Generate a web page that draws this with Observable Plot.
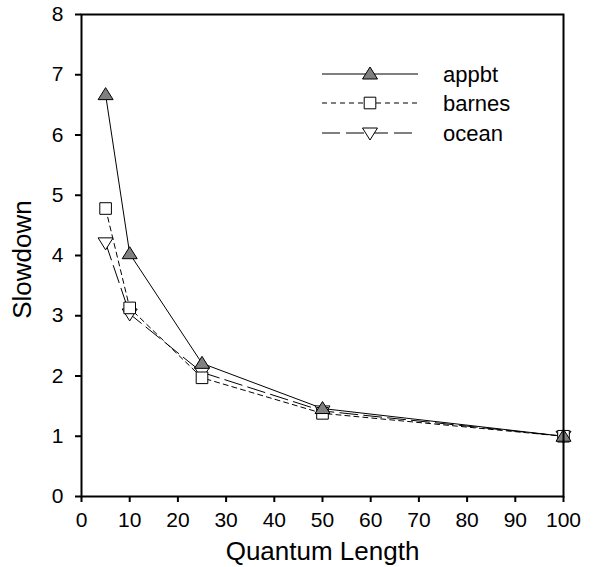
<!DOCTYPE html>
<html>
<head>
<meta charset="utf-8">
<script src="https://cdn.jsdelivr.net/npm/d3@7"></script>
<script src="https://cdn.jsdelivr.net/npm/@observablehq/plot@0.6"></script>
<style>
  html, body { margin: 0; padding: 0; background: white; }
</style>
</head>
<body>
<div id="chart"></div>
<script>
const quantum = [5, 10, 25, 50, 100];
const appbt = [6.67, 4.03, 2.21, 1.46, 1.0];
const barnes = [4.78, 3.13, 1.97, 1.38, 1.0];
const ocean = [4.21, 3.03, 2.06, 1.42, 1.0];
const seriesNames = ["appbt", "barnes", "ocean"];
const xTicks = [0, 10, 20, 30, 40, 50, 60, 70, 80, 90, 100];
const yTicks = [0, 1, 2, 3, 4, 5, 6, 7, 8];
const xLabel = "Quantum Length";
const yLabel = "Slowdown";

const triUp = {draw(c) { c.moveTo(0, -7); c.lineTo(7.5, 5); c.lineTo(-7.5, 5); c.closePath(); }};
const triDown = {draw(c) { c.moveTo(0, 7); c.lineTo(7.5, -5); c.lineTo(-7.5, -5); c.closePath(); }};
const square = {draw(c) { c.rect(-5.8, -5.8, 11.6, 11.6); }};

const styles = {
  appbt: {dash: null, symbol: triUp, fill: "#808080"},
  barnes: {dash: "5,4", symbol: square, fill: "white"},
  ocean: {dash: "18,6", symbol: triDown, fill: "white"}
};
const seriesVals = {appbt, barnes, ocean};
const rows = name => quantum.map((q, i) => ({q, v: seriesVals[name][i], s: name}));

const drawOrder = ["ocean", "barnes", "appbt"];
const marks = [];
for (const name of drawOrder) {
  marks.push(Plot.line(rows(name), {x: "q", y: "v", stroke: "black", strokeWidth: 1, strokeDasharray: styles[name].dash}));
}
for (const name of drawOrder) {
  marks.push(Plot.dot(rows(name), {x: "q", y: "v", symbol: styles[name].symbol, fill: styles[name].fill, stroke: "black", strokeWidth: 1, r: 5}));
}

const FONT = "'Liberation Sans', Arial, sans-serif";

const plot = Plot.plot({
  width: 593,
  height: 567,
  marginLeft: 81,
  marginRight: 30,
  marginTop: 14,
  marginBottom: 71,
  x: {domain: [0, 100]},
  y: {domain: [0, 8]},
  style: {fontFamily: FONT, fontSize: "21px", color: "black", background: "white"},
  marks: [
    Plot.axisX({ticks: xTicks, tickSize: 6, tickPadding: 10, strokeWidth: 2, label: null, fontSize: 21, tickFormat: d => String(d)}),
    Plot.axisY({ticks: yTicks, tickSize: 6, tickPadding: 12, strokeWidth: 2, label: null, fontSize: 21, tickFormat: d => String(d)}),
    ...marks,
    Plot.frame({stroke: "black", strokeWidth: 2}),
    Plot.text([xLabel], {text: d => d, frameAnchor: "bottom", dy: 63, fontSize: 26}),
    Plot.text([yLabel], {text: d => d, frameAnchor: "left", textAnchor: "middle", dx: -59, dy: 4, rotate: -90, fontSize: 26})
  ]
});

document.getElementById("chart").appendChild(plot);

// Legend (inside plot area, top right)
const svg = d3.select(plot);
const lg = svg.append("g").attr("class", "legend");
const legendRowY = [74, 103, 133];
seriesNames.forEach((name, i) => {
  const y = legendRowY[i];
  const g = lg.append("g");
  g.append("line").attr("x1", 322).attr("x2", 418).attr("y1", y).attr("y2", y)
    .attr("stroke", "black").attr("stroke-width", 1)
    .attr("stroke-dasharray", styles[name].dash);
  g.append("path").attr("transform", `translate(370,${y})`)
    .attr("d", d3.symbol(styles[name].symbol)())
    .attr("fill", styles[name].fill).attr("stroke", "black").attr("stroke-width", 1);
  g.append("text").attr("x", 443).attr("y", y).attr("dy", "0.35em")
    .attr("text-anchor", "start")
    .attr("font-size", 22).attr("font-family", FONT)
    .attr("fill", "black").text(name);
});
</script>
</body>
</html>
